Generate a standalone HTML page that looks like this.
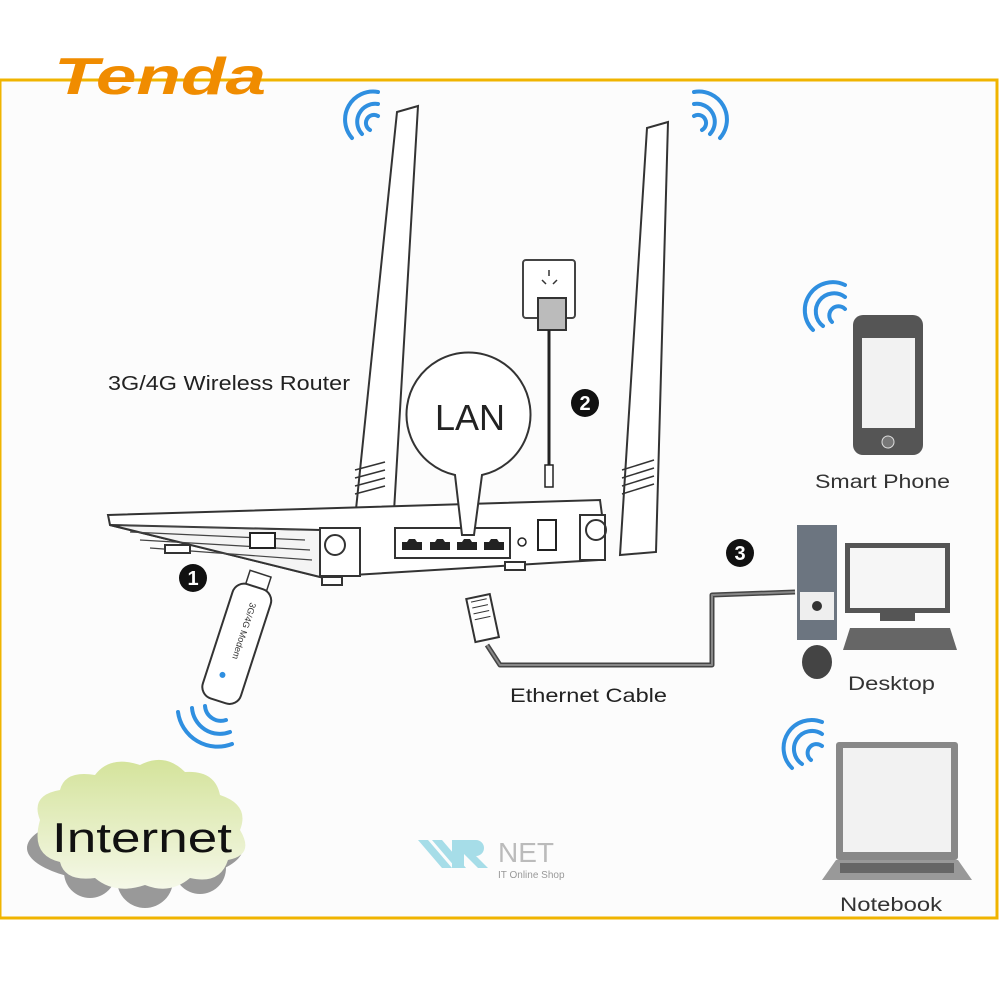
<!DOCTYPE html>
<html><head><meta charset="utf-8"><style>
body{margin:0;background:#fff}
svg{display:block}
text{font-family:"Liberation Sans",sans-serif}
</style></head><body>
<svg width="1000" height="1000" viewBox="0 0 1000 1000" xmlns="http://www.w3.org/2000/svg">
<rect x="0" y="80" width="997" height="838" fill="#fcfcfc" stroke="#f0b400" stroke-width="3"/>
<text x="54" y="94" font-size="52" font-weight="bold" font-style="italic" fill="#f08c00" textLength="212" lengthAdjust="spacingAndGlyphs">Tenda</text>

<!-- wifi arcs -->
<g fill="none" stroke="#2f8fe0" stroke-width="4" stroke-linecap="round">
<path d="M352 138 A28 28 0 0 1 378 92"/><path d="M362 134 A18 18 0 0 1 378 104"/><path d="M370 130 A8 8 0 0 1 378 116"/>
<path d="M720 138 A28 28 0 0 0 694 92"/><path d="M710 134 A18 18 0 0 0 694 104"/><path d="M702 130 A8 8 0 0 0 694 116"/>
<path d="M813 330 A28 28 0 0 1 845 285"/><path d="M823 326 A18 18 0 0 1 845 297"/><path d="M832 322 A8 8 0 0 1 845 309"/>
<path d="M792 768 A28 28 0 0 1 822 722"/><path d="M802 764 A18 18 0 0 1 822 734"/><path d="M811 760 A8 8 0 0 1 822 746"/>
<path d="M178 712 A40 40 0 0 0 232 744"/><path d="M192 708 A28 28 0 0 0 230 732"/><path d="M205 706 A16 16 0 0 0 226 720"/>
</g>

<!-- antennas -->
<g fill="#fff" stroke="#333" stroke-width="2">
<path d="M397 112 L418 106 L392 545 L352 548 Z"/>
<path d="M647 128 L668 122 L656 552 L620 555 Z"/>
</g>
<g stroke="#333" stroke-width="1.5" fill="none">
<path d="M355 470 l30 -8 M355 478 l30 -8 M355 486 l30 -8 M355 494 l30 -8"/>
<path d="M622 470 l32 -10 M622 478 l32 -10 M622 486 l32 -10 M622 494 l32 -10"/>
</g>

<!-- wall plate & adapter -->
<rect x="523" y="260" width="52" height="58" rx="3" fill="#fff" stroke="#444" stroke-width="2"/>
<rect x="538" y="298" width="28" height="32" fill="#bbb" stroke="#333" stroke-width="2"/>
<path d="M549 270 v6 M542 280 l4 4 M557 280 l-4 4" stroke="#333" stroke-width="1.5"/>
<line x1="549" y1="330" x2="549" y2="485" stroke="#222" stroke-width="3"/>
<rect x="545" y="465" width="8" height="22" fill="#fff" stroke="#222" stroke-width="1.5"/>

<!-- router body -->
<g stroke="#333" stroke-width="2" fill="#fff">
<path d="M108 515 L600 500 L602 515 L598 560 L320 577 L110 525 Z"/>
<path d="M110 525 L320 530 L320 577 Z" fill="#f4f4f4"/>
<rect x="395" y="528" width="115" height="30" fill="#fff"/>
<rect x="320" y="528" width="40" height="48" fill="#fff"/>
<rect x="580" y="515" width="25" height="45" fill="#fff"/>
</g>
<g stroke="#444" stroke-width="1.2"><path d="M120 525 L300 530 M130 532 L305 540 M140 540 L310 550 M150 548 L312 560"/></g>
<rect x="250" y="533" width="25" height="15" fill="#fff" stroke="#222" stroke-width="2"/>
<g fill="#222"><path d="M402 550 v-8 h5 l2-3 h6 l2 3 h5 v8Z"/><path d="M430 550 v-8 h5 l2-3 h6 l2 3 h5 v8Z"/><path d="M457 550 v-8 h5 l2-3 h6 l2 3 h5 v8Z"/><path d="M484 550 v-8 h5 l2-3 h6 l2 3 h5 v8Z"/></g>
<rect x="538" y="520" width="18" height="30" fill="#fff" stroke="#222" stroke-width="2"/>
<circle cx="522" cy="542" r="4" fill="none" stroke="#222" stroke-width="1.5"/>
<circle cx="335" cy="545" r="10" fill="none" stroke="#333" stroke-width="2"/>
<circle cx="596" cy="530" r="10" fill="none" stroke="#333" stroke-width="2"/>
<g fill="#fff" stroke="#333" stroke-width="2"><rect x="165" y="545" width="25" height="8"/><rect x="322" y="577" width="20" height="8"/><rect x="505" y="562" width="20" height="8"/></g>

<!-- LAN bubble -->
<path d="M455 475 A62 62 0 1 1 482 475 L474 535 L462 535 Z" fill="#fff" stroke="#333" stroke-width="2"/>
<text x="470" y="430" font-size="36" text-anchor="middle" fill="#222">LAN</text>

<text x="108" y="390" font-size="20" fill="#222" textLength="242" lengthAdjust="spacingAndGlyphs">3G/4G Wireless Router</text>

<!-- number badges -->
<g font-size="20" font-weight="bold" text-anchor="middle" fill="#fff">
<circle cx="193" cy="578" r="14" fill="#111"/><text x="193" y="585">1</text>
<circle cx="585" cy="403" r="14" fill="#111"/><text x="585" y="410">2</text>
<circle cx="740" cy="553" r="14" fill="#111"/><text x="740" y="560">3</text>
</g>

<!-- USB dongle -->
<g transform="translate(238,640) rotate(18)">
<rect x="-10" y="-70" width="22" height="16" fill="#fff" stroke="#333" stroke-width="1.5"/>
<rect x="-20" y="-56" width="40" height="120" rx="12" fill="#fff" stroke="#333" stroke-width="2"/>
<text x="0" y="-40" font-size="9" fill="#333" transform="rotate(90 0 -40)">3G/4G Modem</text>
<circle cx="-4" cy="38" r="3" fill="#2f8fe0"/>
</g>

<!-- ethernet cable -->
<path d="M487 645 L500 665 L712 665 L712 595 L795 592" fill="none" stroke="#444" stroke-width="5" stroke-linejoin="round"/>
<path d="M487 645 L500 665 L712 665 L712 595 L795 592" fill="none" stroke="#888" stroke-width="2" stroke-linejoin="round"/>
<g transform="translate(483,620) rotate(-12)"><rect x="-12" y="-24" width="24" height="44" fill="#fff" stroke="#333" stroke-width="2"/><path d="M-8 -20 h16 M-8 -14 h16 M-8 -8 h16 M-8 -2 h16" stroke="#333"/></g>
<text x="510" y="702" font-size="19" fill="#222" textLength="157" lengthAdjust="spacingAndGlyphs">Ethernet Cable</text>

<!-- phone -->
<rect x="853" y="315" width="70" height="140" rx="10" fill="#555"/>
<rect x="862" y="338" width="53" height="90" fill="#f2f2f2"/>
<circle cx="888" cy="442" r="6" fill="#777" stroke="#ddd"/>
<text x="815" y="488" font-size="19" fill="#333" textLength="135" lengthAdjust="spacingAndGlyphs">Smart Phone</text>

<!-- desktop -->
<rect x="797" y="525" width="40" height="115" fill="#6c7580"/>
<rect x="800" y="592" width="34" height="28" fill="#eee"/>
<circle cx="817" cy="606" r="5" fill="#333"/>
<rect x="845" y="543" width="105" height="70" fill="#555"/>
<rect x="850" y="548" width="95" height="60" fill="#f6f6f6"/>
<rect x="880" y="613" width="35" height="8" fill="#555"/>
<path d="M843 650 L850 628 L950 628 L957 650 Z" fill="#666"/>
<ellipse cx="817" cy="662" rx="15" ry="17" fill="#444"/>
<text x="848" y="690" font-size="19" fill="#333" textLength="87" lengthAdjust="spacingAndGlyphs">Desktop</text>

<!-- notebook -->
<rect x="836" y="742" width="122" height="118" rx="3" fill="#888"/>
<rect x="843" y="748" width="108" height="104" fill="#f2f2f2"/>
<path d="M836 860 L958 860 L972 880 L822 880 Z" fill="#999"/>
<rect x="840" y="863" width="114" height="10" fill="#666"/>
<text x="840" y="911" font-size="19" fill="#333" textLength="102" lengthAdjust="spacingAndGlyphs">Notebook</text>

<!-- cloud -->
<defs><linearGradient id="cg" x1="0" y1="0" x2="0" y2="1"><stop offset="0" stop-color="#d4e39b"/><stop offset="1" stop-color="#f5f8e8"/></linearGradient></defs>
<g fill="#999"><ellipse cx="135" cy="848" rx="108" ry="36"/><circle cx="90" cy="872" r="26"/><circle cx="145" cy="880" r="28"/><circle cx="200" cy="868" r="26"/></g>
<path fill="url(#cg)" d="M40 820 Q30 795 60 790 Q65 770 95 775 Q110 755 140 765 Q165 752 185 772 Q215 770 220 795 Q250 805 240 830 Q255 855 228 860 Q220 885 190 878 Q170 895 145 885 Q115 895 95 878 Q65 882 60 862 Q30 855 40 820Z"/>
<text x="52" y="852" font-size="42" fill="#111" textLength="180" lengthAdjust="spacingAndGlyphs">Internet</text>

<!-- watermark -->
<path d="M418 840 h10 l24 28 h-10Z M432 840 h10 l24 28 h-10Z" fill="#a6dde8"/>
<path d="M452 840 h24 a8 8 0 0 1 0 16 l12 12 h-10 l-14 -14 v14 h-12Z" fill="#a6dde8"/>
<text x="498" y="862" font-size="28" fill="#bbb">NET</text>
<text x="498" y="878" font-size="10" fill="#999">IT Online Shop</text>
</svg>
</body></html>
